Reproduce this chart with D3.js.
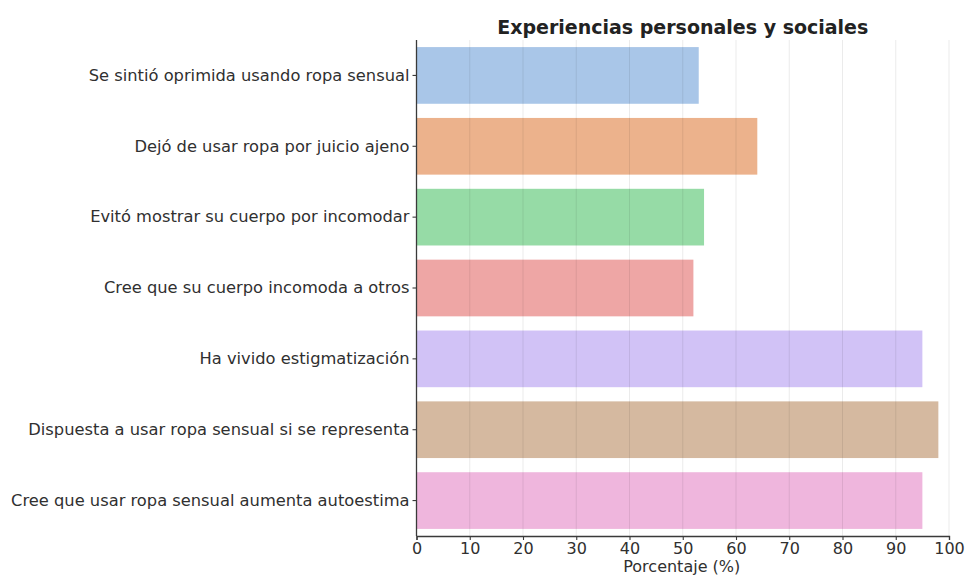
<!DOCTYPE html>
<html>
<head>
<meta charset="utf-8">
<script src="https://cdn.jsdelivr.net/npm/d3@7"></script>
<style>
  html, body { margin: 0; padding: 0; background: #ffffff; }
  svg { display: block; font-family: "DejaVu Sans", sans-serif; }
</style>
</head>
<body>
<svg id="chart" width="966" height="577"></svg>
<script>
const categories = [
  "Se sintió oprimida usando ropa sensual",
  "Dejó de usar ropa por juicio ajeno",
  "Evitó mostrar su cuerpo por incomodar",
  "Cree que su cuerpo incomoda a otros",
  "Ha vivido estigmatización",
  "Dispuesta a usar ropa sensual si se representa",
  "Cree que usar ropa sensual aumenta autoestima"
];
const values = [53, 64, 54, 52, 95, 98, 95];
const colors = ["#a9c6e8", "#ecb28c", "#96dba6", "#eea6a5", "#d1c2f6", "#d5b9a0", "#efb6dd"];
const xTicks = [0, 10, 20, 30, 40, 50, 60, 70, 80, 90, 100];
const chartTitle = "Experiencias personales y sociales";
const xLabel = "Porcentaje (%)";

(function () {
const svg = d3.select("#chart");
const mLeft = 416.5, mRight = 949, mTop = 40, mBottom = 536;

const x = d3.scaleLinear().domain([0, 100]).range([mLeft, mRight]);
const y = d3.scaleBand().domain(categories).range([mTop, mBottom]).paddingInner(0.2).paddingOuter(0.1);

// bars
svg.append("g").selectAll("rect").data(values).join("rect")
  .attr("x", x(0))
  .attr("y", (d, i) => y(categories[i]))
  .attr("width", d => x(d) - x(0))
  .attr("height", y.bandwidth())
  .attr("fill", (d, i) => colors[i]);

// grid (over bars, faint)
svg.append("g").selectAll("line").data(xTicks.slice(1)).join("line")
  .attr("x1", d => x(d)).attr("x2", d => x(d))
  .attr("y1", mTop).attr("y2", mBottom)
  .attr("stroke", "rgba(0,0,0,0.08)")
  .attr("stroke-width", 1);

// x axis
const xAxis = svg.append("g")
  .attr("transform", `translate(0,${mBottom})`)
  .call(d3.axisBottom(x).tickValues(xTicks).tickSize(4).tickPadding(3).tickFormat(d3.format("d")));
xAxis.select(".domain").attr("stroke", "#3a3a3a").attr("stroke-width", 1.3);
xAxis.selectAll(".tick line").attr("stroke", "#3a3a3a").attr("stroke-width", 1.1);
xAxis.selectAll(".tick text").attr("fill", "#303030").style("font-size", "16px").style("font-family", "DejaVu Sans");

// y axis
const yAxis = svg.append("g")
  .attr("transform", `translate(${mLeft},0)`)
  .call(d3.axisLeft(y).tickSize(4).tickPadding(3).tickSizeOuter(0));
yAxis.select(".domain").attr("stroke", "#3a3a3a").attr("stroke-width", 1.3)
  .attr("d", `M0,${mTop}V${mBottom}`);
yAxis.selectAll(".tick line").attr("stroke", "#3a3a3a").attr("stroke-width", 1.1);
yAxis.selectAll(".tick text").attr("fill", "#303030").style("font-size", "16.3px").style("font-family", "DejaVu Sans");

// title
svg.append("text")
  .attr("x", (mLeft + mRight) / 2).attr("y", 34)
  .attr("text-anchor", "middle")
  .attr("fill", "#222")
  .style("font-size", "19px").style("font-weight", "bold")
  .text(chartTitle);

// x label
svg.append("text")
  .attr("x", (mLeft + mRight) / 2 - 1).attr("y", 572)
  .attr("text-anchor", "middle")
  .attr("fill", "#303030")
  .style("font-size", "16px")
  .text(xLabel);
})();
</script>
</body>
</html>
